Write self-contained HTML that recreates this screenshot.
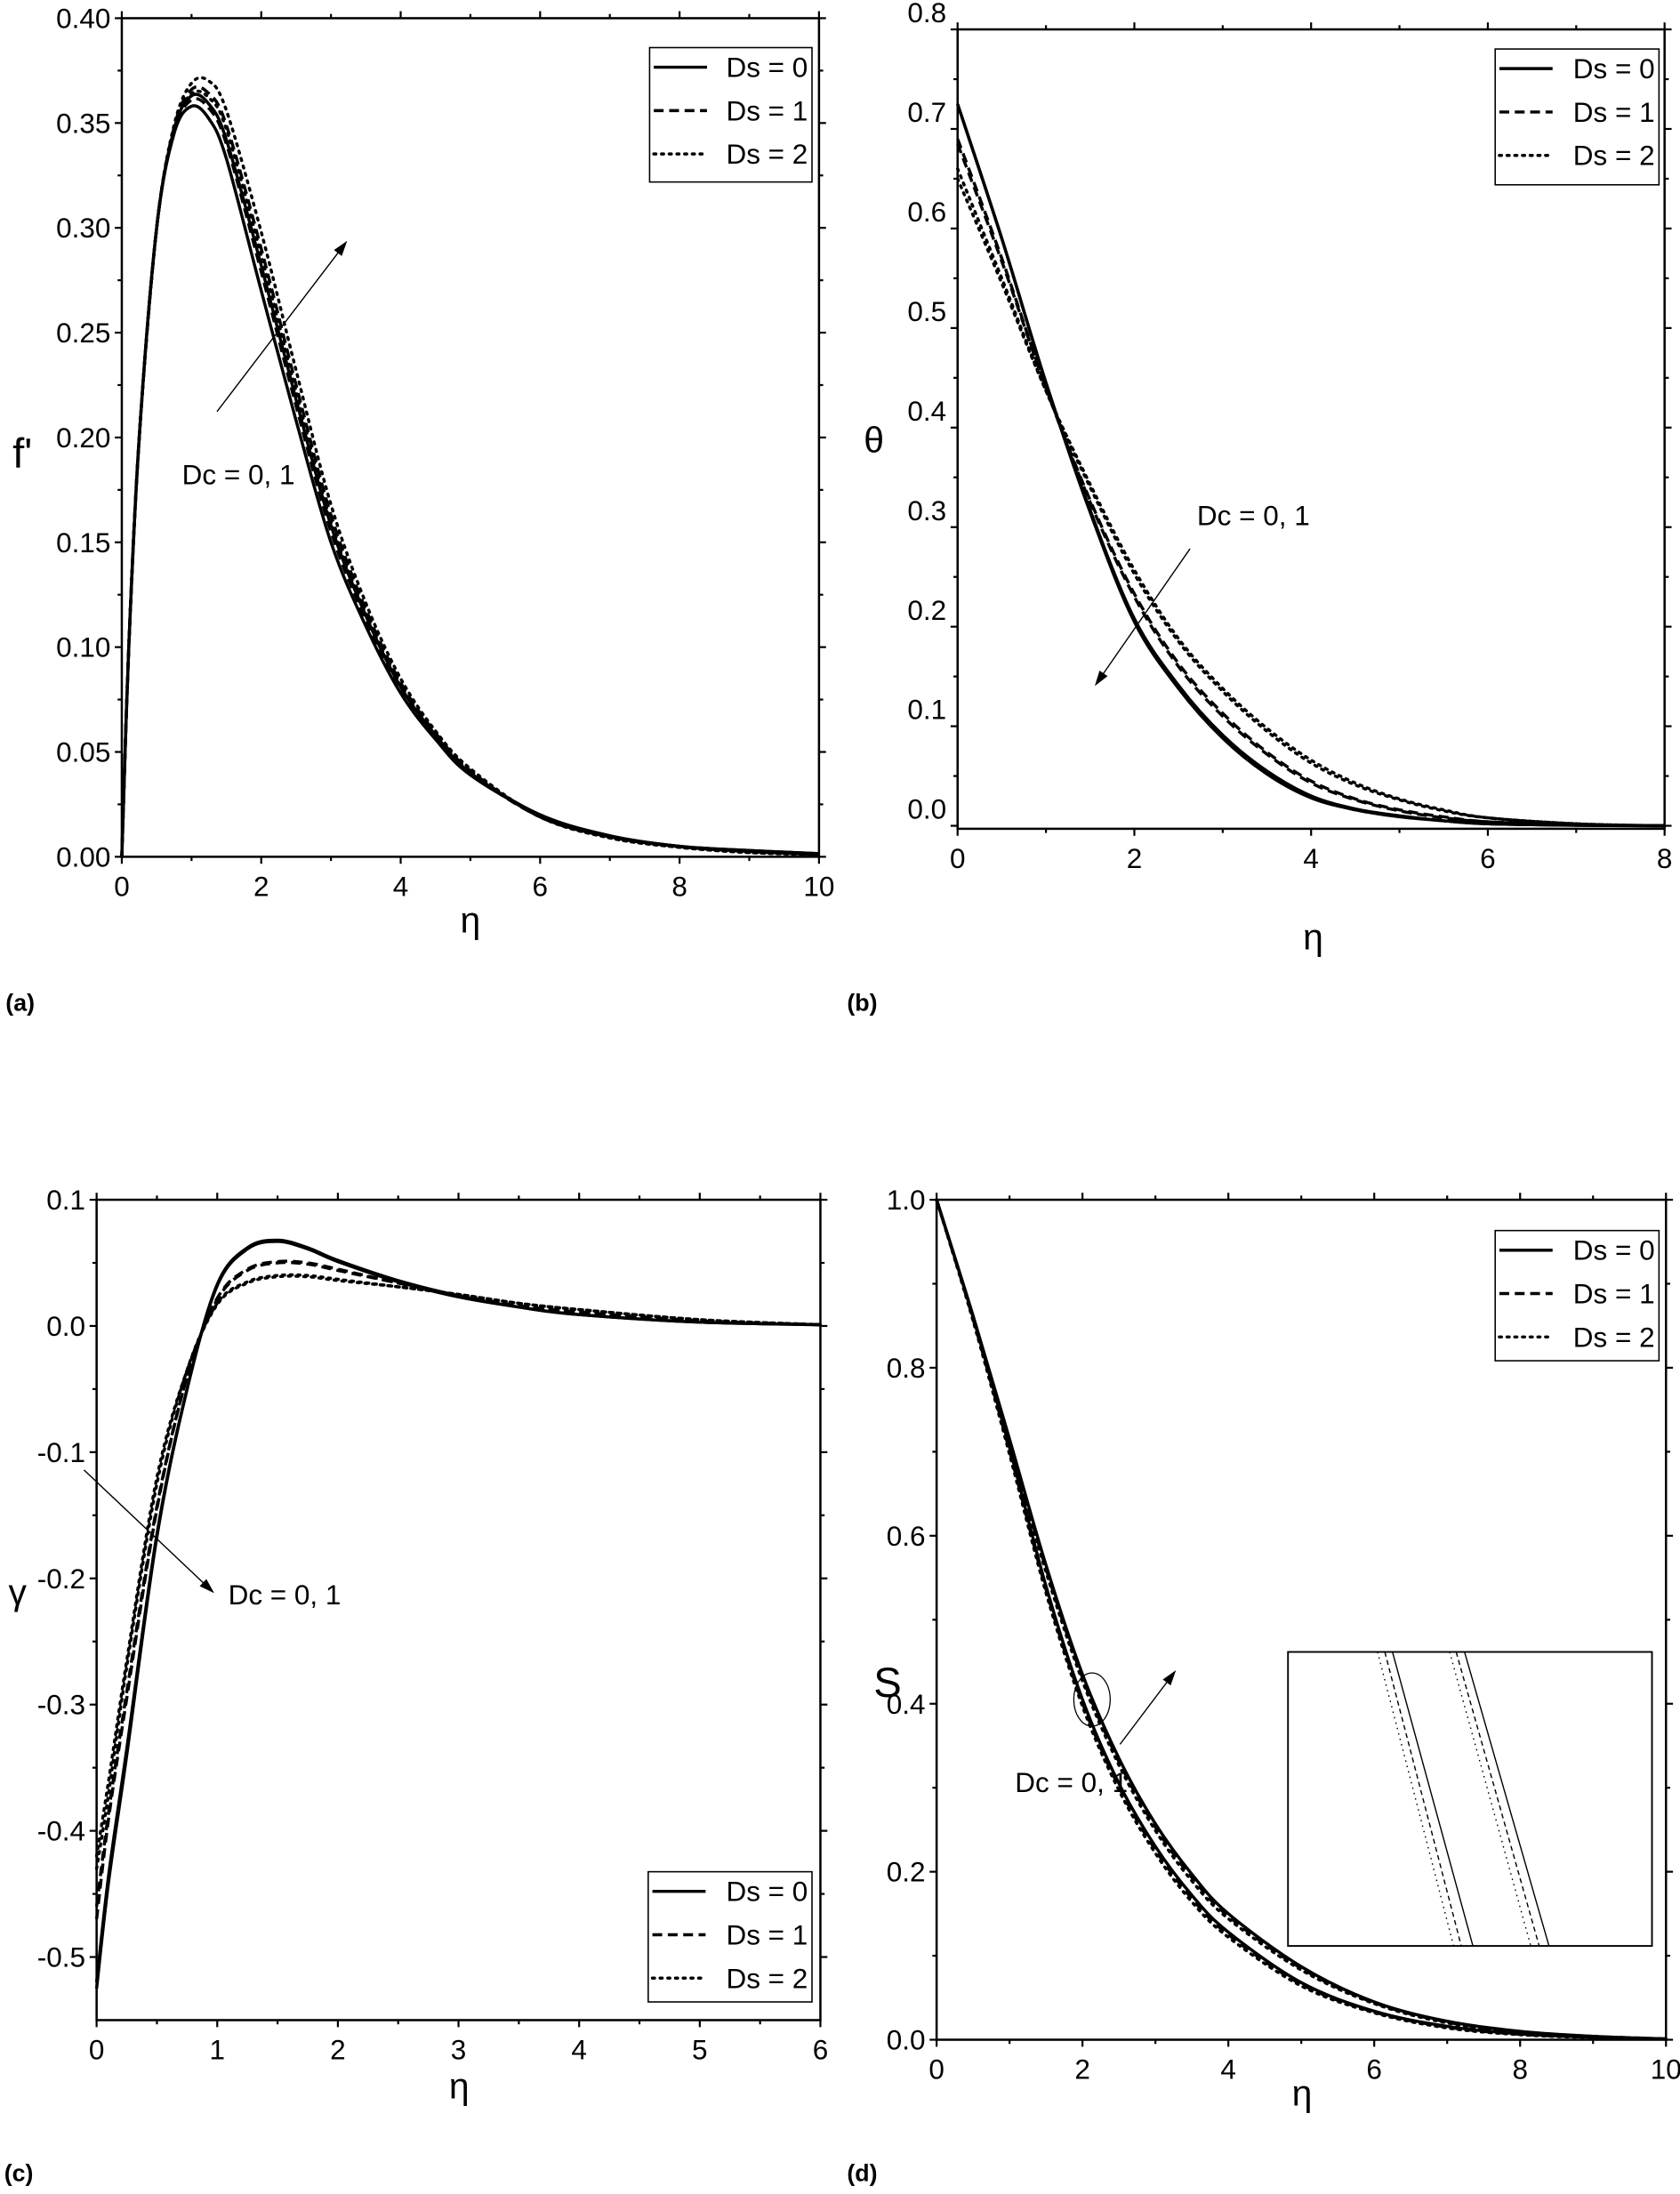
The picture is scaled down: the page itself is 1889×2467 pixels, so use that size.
<!DOCTYPE html>
<html><head><meta charset="utf-8"><style>
html,body{margin:0;padding:0;background:#fff;}
svg{display:block;}
text{font-family:"Liberation Sans",sans-serif;fill:#000;}
</style></head><body>
<svg id="fig" width="1889" height="2467" viewBox="0 0 1200 1567.2" xmlns="http://www.w3.org/2000/svg"></svg>
<script>
// ---------- data ----------
const etaA = [0,0.1,0.25,0.5,0.75,1,1.25,1.5,2,2.5,3,3.5,4,4.5,5,6,7,8,9,10];
const fA_ds0_dc0 = [0,.10,.20,.30,.345,.358,.352,.333,.270,.208,.150,.110,.078,.056,.039,.020,.010,.005,.003,.0015];
const fA_ds0_dc1 = [0,.10,.20,.30,.347,.363,.359,.342,.282,.218,.158,.115,.081,.058,.040,.020,.010,.005,.003,.0015];
const fA_ds1_dc0 = [0,.10,.20,.30,.346,.361,.357,.340,.279,.215,.155,.113,.080,.057,.040,.019,.0095,.0048,.0025,.001];
const fA_ds1_dc1 = [0,.10,.20,.30,.348,.366,.364,.349,.290,.225,.163,.118,.083,.059,.041,.019,.0095,.0048,.0025,.001];
const fA_ds2_dc0 = [0,.10,.20,.30,.347,.364,.362,.347,.287,.222,.160,.116,.082,.058,.041,.019,.009,.0045,.002,.001];
const fA_ds2_dc1 = [0,.10,.20,.30,.349,.369,.370,.356,.298,.232,.168,.121,.085,.060,.042,.019,.009,.0045,.002,.001];

const etaB = [0,0.5,1,1.5,2,2.5,3,3.5,4,4.5,5,5.5,6,7,8];
const thB_ds0_dc0 = [.725,.59,.445,.315,.205,.138,.088,.052,.028,.016,.009,.005,.002,.0005,0];
const thB_ds0_dc1 = [.725,.59,.445,.317,.208,.141,.091,.055,.030,.017,.010,.005,.002,.0005,0];
const thB_ds1_dc0 = [.69,.57,.44,.325,.23,.16,.11,.072,.043,.026,.015,.008,.004,.001,0];
const thB_ds1_dc1 = [.685,.567,.44,.327,.233,.163,.113,.074,.045,.027,.016,.009,.004,.001,0];
const thB_ds2_dc0 = [.66,.55,.437,.34,.253,.185,.135,.095,.063,.041,.026,.015,.008,.002,0];
const thB_ds2_dc1 = [.65,.545,.437,.343,.257,.188,.138,.098,.066,.043,.027,.016,.008,.002,0];

const etaC = [0,0.1,0.25,0.5,0.75,1,1.25,1.5,1.75,2,2.5,3,3.5,4,5,6];
const gC_ds0_dc0 = [-.525,-.44,-.34,-.167,-.05,.033,.062,.068,.062,.052,.036,.024,.015,.009,.003,.001];
const gC_ds0_dc1 = [-.52,-.435,-.335,-.165,-.05,.032,.061,.067,.061,.051,.035,.023,.015,.009,.003,.001];
const gC_ds1_dc0 = [-.47,-.39,-.295,-.145,-.04,.022,.045,.051,.05,.045,.034,.024,.016,.011,.004,.001];
const gC_ds1_dc1 = [-.46,-.385,-.29,-.143,-.04,.021,.044,.05,.049,.044,.034,.024,.016,.011,.004,.001];
const gC_ds2_dc0 = [-.43,-.37,-.27,-.125,-.035,.018,.035,.04,.04,.037,.031,.025,.018,.013,.005,.001];
const gC_ds2_dc1 = [-.42,-.36,-.265,-.12,-.035,.017,.034,.039,.039,.036,.031,.025,.018,.013,.005,.001];

const etaD = [0,0.5,1,1.5,2,2.5,3,3.5,4,5,6,7,8,9,10];
const sD_ds0_dc0 = [1,.86,.705,.54,.405,.305,.23,.172,.128,.068,.034,.016,.007,.003,.001];
const sD_ds0_dc1 = [1,.862,.715,.565,.435,.335,.257,.197,.15,.087,.045,.022,.01,.004,.001];
const sD_ds1_dc0 = [1,.858,.701,.536,.401,.301,.226,.168,.125,.066,.033,.015,.0065,.003,.001];
const sD_ds1_dc1 = [1,.86,.711,.561,.431,.331,.253,.193,.147,.085,.044,.021,.0095,.004,.001];
const sD_ds2_dc0 = [1,.856,.697,.532,.397,.297,.222,.164,.122,.064,.032,.014,.006,.0025,.001];
const sD_ds2_dc1 = [1,.858,.707,.557,.427,.327,.249,.189,.144,.083,.043,.02,.009,.0035,.001];

const xTicksA = [0,2,4,6,8,10], yTicksA = [0,0.05,0.10,0.15,0.20,0.25,0.30,0.35,0.40];
const xTicksB = [0,2,4,6,8],    yTicksB = [0,0.1,0.2,0.3,0.4,0.5,0.6,0.7,0.8];
const xTicksC = [0,1,2,3,4,5,6], yTicksC = [-0.5,-0.4,-0.3,-0.2,-0.1,0.0,0.1];
const xTicksD = [0,2,4,6,8,10], yTicksD = [0,0.2,0.4,0.6,0.8,1.0];
const legendLabels = ["Ds = 0","Ds = 1","Ds = 2"];

// ---------- drawing ----------
const NS = "http://www.w3.org/2000/svg";
const svg = document.getElementById('fig');
function el(tag, attrs, parent){
  const e = document.createElementNS(NS, tag);
  for (const k in attrs) e.setAttribute(k, attrs[k]);
  (parent||svg).appendChild(e); return e;
}
function txt(s, x, y, size, anchor, parent, extra){
  const t = el('text', Object.assign({x:x, y:y, 'font-size':size, 'text-anchor':anchor||'start'}, extra||{}), parent);
  t.textContent = s; return t;
}
const styles = [
  {w:2.2, dash:null},
  {w:2.2, dash:"7 4"},
  {w:2.2, dash:"1.5 4", cap:"round"}
];
function smoothPath(pts){
  let d = "M"+pts[0][0].toFixed(2)+","+pts[0][1].toFixed(2);
  for (let i=0;i<pts.length-1;i++){
    const p0=pts[Math.max(0,i-1)], p1=pts[i], p2=pts[i+1], p3=pts[Math.min(pts.length-1,i+2)];
    const c1x=p1[0]+(p2[0]-p0[0])/6, c1y=p1[1]+(p2[1]-p0[1])/6;
    const c2x=p2[0]-(p3[0]-p1[0])/6, c2y=p2[1]-(p3[1]-p1[1])/6;
    d += " C"+c1x.toFixed(2)+","+c1y.toFixed(2)+" "+c2x.toFixed(2)+","+c2y.toFixed(2)+" "+p2[0].toFixed(2)+","+p2[1].toFixed(2);
  }
  return d;
}
function panel(cfg){
  const g = el('g', {});
  
  
  const sx = v => cfg.x0 + (v-cfg.xmin)/(cfg.xmax-cfg.xmin)*(cfg.x1-cfg.x0);
  const sy = v => cfg.y1 - (v-cfg.ymin)/(cfg.ymax-cfg.ymin)*(cfg.y1-cfg.y0);
  const sg = el('g', {}, g);
  
  
  cfg.series.forEach((s) => {
    const pts = s.y.map((v,i)=>[sx(s.x[i]), sy(v)]);
    const st = styles[s.style];
    const p = el('path', {d:smoothPath(pts), fill:'none', stroke:'#000', 'stroke-width':st.w}, sg);
    if (st.dash) p.setAttribute('stroke-dasharray', st.dash);
    if (st.cap) p.setAttribute('stroke-linecap', st.cap);
    
    
  });
  const fr = el('rect', {x:cfg.x0, y:cfg.y0, width:cfg.x1-cfg.x0, height:cfg.y1-cfg.y0, fill:'none', stroke:'#000', 'stroke-width':1.6}, g);
  
  
  const tg = el('g', {stroke:'#000', 'stroke-width':1.4}, g);
  
  
  const xs = cfg.xTicks, ys = cfg.yTicks;
  const xstep = xs[1]-xs[0], ystep = ys[1]-ys[0];
  for (let v=cfg.xmin; v<=cfg.xmax+1e-9; v+=xstep/2){
    const major = Math.abs(((v-xs[0])/xstep) - Math.round((v-xs[0])/xstep))<1e-6;
    const L = major?5:3, X=sx(v);
    el('line',{x1:X,y1:cfg.y1,x2:X,y2:cfg.y1+L},tg);
    el('line',{x1:X,y1:cfg.y0,x2:X,y2:cfg.y0-L},tg);
  }
  for (let v=ys[0]; v<=cfg.ymax+1e-9; v+=ystep/2){
    const major = Math.abs(((v-ys[0])/ystep) - Math.round((v-ys[0])/ystep))<1e-6;
    const L = major?5:3, Y=sy(v);
    el('line',{x1:cfg.x0,y1:Y,x2:cfg.x0-L,y2:Y},tg);
    el('line',{x1:cfg.x1,y1:Y,x2:cfg.x1+L,y2:Y},tg);
  }
  xs.forEach(v=>{
    const t = txt(String(v), sx(v), cfg.y1+28, 20, 'middle', g);
    
    
  });
  ys.forEach(v=>{
    const t = txt(v.toFixed(cfg.dec), cfg.x0-8, sy(v)+7+(cfg.yLabelShift||0), 20, 'end', g);
    
    
  });
  const xt = txt('η', cfg.xtitle[0], cfg.xtitle[1], 26, 'middle', g, {'font-family':'"DejaVu Serif",serif'});
  
  
  const yt = txt(cfg.ytitle, cfg.ytitlePos[0], cfg.ytitlePos[1], cfg.ytitleSize, 'start', g, cfg.ytitleFont?{'font-family':cfg.ytitleFont}:{});
  
  
  const lg = el('g', {}, g);
  
  
  const L = cfg.legend;
  el('rect',{x:L[0],y:L[1],width:L[2],height:L[3],fill:'#fff',stroke:'#000','stroke-width':1},lg);
  legendLabels.forEach((lab,i)=>{
    const ey = L[1]+14+i*31;
    const st = styles[i];
    const ln = el('line',{x1:L[0]+3,y1:ey,x2:L[0]+41,y2:ey,stroke:'#000','stroke-width':st.w},lg);
    if (st.dash) ln.setAttribute('stroke-dasharray', st.dash);
    if (st.cap) ln.setAttribute('stroke-linecap', st.cap);
    
    
    const t = txt(lab, L[0]+L[2]-3, ey+7, 20, 'end', lg);
    
    
  });
  const A = cfg.arrow;
  const ang = Math.atan2(A[3]-A[1], A[2]-A[0]);
  const ag = el('g', {}, g);
  
  
  el('line',{x1:A[0],y1:A[1],x2:A[2]-7*Math.cos(ang),y2:A[3]-7*Math.sin(ang),stroke:'#000','stroke-width':0.9},ag);
  const hx=A[2], hy=A[3], bl=11, bw=3.5;
  const bx=hx-bl*Math.cos(ang), by=hy-bl*Math.sin(ang);
  el('polygon',{points:`${hx},${hy} ${bx-bw*Math.sin(ang)},${by+bw*Math.cos(ang)} ${bx+bw*Math.sin(ang)},${by-bw*Math.cos(ang)}`,fill:'#000'},ag);
  const at = txt('Dc = 0, 1', cfg.dcText[0], cfg.dcText[1], 20, 'start', g);
  
  
  const pl = txt(cfg.label, cfg.labelPos[0], cfg.labelPos[1], 17, 'start', g, {'font-family':'"Liberation Serif",serif','font-weight':'bold'});
  
  
  return {g, sx, sy};
}
function mk(x, ys, names){
  return ys.map((y,i)=>({x:x, y:y, style:Math.floor(i/2), name:names[i]}));
}
const nm = ['line-ds0-dc0','line-ds0-dc1','line-ds1-dc0','line-ds1-dc1','line-ds2-dc0','line-ds2-dc1'];

panel({name:'panel-a-velocity', x0:87, x1:585, y0:13, y1:612, xmin:0, xmax:10, ymin:0, ymax:0.40,
  xTicks:xTicksA, yTicks:yTicksA, dec:2,
  series:mk(etaA,[fA_ds0_dc0,fA_ds0_dc1,fA_ds1_dc0,fA_ds1_dc1,fA_ds2_dc0,fA_ds2_dc1],nm),
  xtitle:[336,666], ytitle:"f'", ytitlePos:[9,334], ytitleSize:30,
  legend:[464,34,116,96], arrow:[155,294,248,172], dcText:[130,346], label:'(a)', labelPos:[4,722]});

panel({name:'panel-b-temperature', x0:684, x1:1189, y0:21, y1:592, xmin:0, xmax:8, ymin:-0.003, ymax:0.8,
  xTicks:xTicksB, yTicks:yTicksB, dec:1, yLabelShift:-12,
  series:mk(etaB,[thB_ds0_dc0,thB_ds0_dc1,thB_ds1_dc0,thB_ds1_dc1,thB_ds2_dc0,thB_ds2_dc1],nm),
  xtitle:[938,678], ytitle:"θ", ytitlePos:[617,323], ytitleSize:26, ytitleFont:'"DejaVu Serif",serif',
  legend:[1068,35,117,97], arrow:[850,392,782,490], dcText:[855,375], label:'(b)', labelPos:[605,722]});

panel({name:'panel-c-microrotation', x0:69, x1:586, y0:857, y1:1443, xmin:0, xmax:6, ymin:-0.55, ymax:0.1,
  xTicks:xTicksC, yTicks:yTicksC, dec:1,
  series:mk(etaC,[gC_ds0_dc0,gC_ds0_dc1,gC_ds1_dc0,gC_ds1_dc1,gC_ds2_dc0,gC_ds2_dc1],nm),
  xtitle:[328,1499], ytitle:"γ", ytitlePos:[6,1146], ytitleSize:26, ytitleFont:'"DejaVu Serif",serif',
  legend:[463,1337,117,93], arrow:[60,1050,153,1138], dcText:[163,1146], label:'(c)', labelPos:[3,1558]});

const pd = panel({name:'panel-d-concentration', x0:669, x1:1190, y0:857, y1:1457, xmin:0, xmax:10, ymin:0, ymax:1.0,
  xTicks:xTicksD, yTicks:yTicksD, dec:1,
  series:mk(etaD,[sD_ds0_dc0,sD_ds0_dc1,sD_ds1_dc0,sD_ds1_dc1,sD_ds2_dc0,sD_ds2_dc1],nm),
  xtitle:[930,1504], ytitle:"S", ytitlePos:[624,1212], ytitleSize:30,
  legend:[1068,879,117,93], arrow:[800,1246,840,1193], dcText:[725,1280], label:'(d)', labelPos:[605,1558]});

const circ = el('ellipse',{cx:780,cy:1214,rx:13,ry:19,fill:'none',stroke:'#000','stroke-width':0.8}, pd.g);


const inset = el('g',{}, pd.g);


const IX=920, IY=1180, IW=260, IH=210;
el('rect',{x:IX,y:IY,width:IW,height:IH,fill:'#fff',stroke:'#000','stroke-width':1.2},inset);
const insetLines = [[0.287,0.508,0],[0.266,0.476,1],[0.246,0.455,2],[0.485,0.717,0],[0.462,0.690,1],[0.444,0.667,2]];
const insetDash = [null,"3.5 2.5","1 3"];
insetLines.forEach(l=>{
  const ln = el('line',{x1:IX+l[0]*IW,y1:IY,x2:IX+l[1]*IW,y2:IY+IH,stroke:'#000','stroke-width':0.9},inset);
  if (insetDash[l[2]]) ln.setAttribute('stroke-dasharray', insetDash[l[2]]);
});
</script>
</body></html>
